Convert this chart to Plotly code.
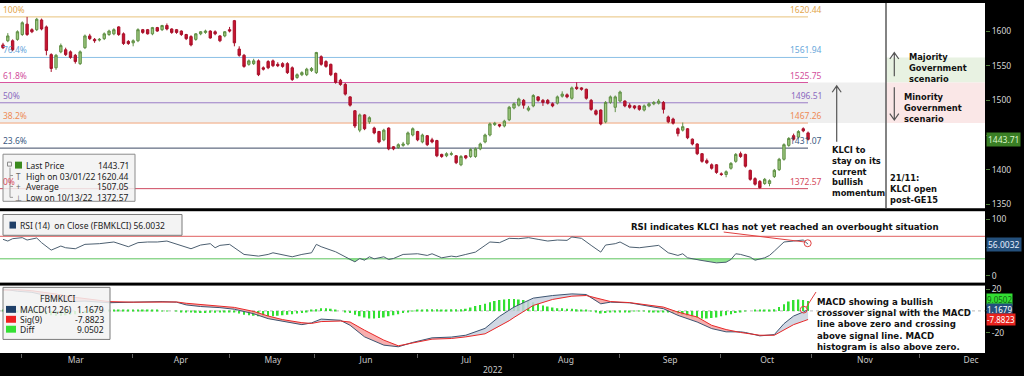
import numpy as np
import plotly.graph_objects as go

# ---------------- data ----------------
open_price = [
    1580, 1586, 1586, 1588, 1595, 1610, 1602, 1602, 1616, 1606,
    1566, 1547, 1570, 1573, 1570, 1565, 1553, 1576, 1593, 1588,
    1587, 1589, 1595, 1596, 1606, 1596, 1585, 1583, 1586, 1602,
    1602, 1596, 1605, 1602, 1608, 1603, 1602, 1600, 1595, 1592,
    1588, 1596, 1598, 1600, 1599, 1593, 1593, 1602, 1615, 1574,
    1565, 1552, 1553, 1557, 1547, 1556, 1557, 1552, 1553, 1553,
    1547, 1533, 1537, 1537, 1543, 1540, 1563, 1556, 1552, 1539,
    1529, 1523, 1505, 1485, 1457, 1479, 1469, 1460, 1455, 1443,
    1460, 1433, 1432, 1435, 1437, 1450, 1455, 1440, 1449, 1443,
    1442, 1422, 1420, 1422, 1420, 1407, 1420, 1419, 1419, 1430,
    1440, 1450, 1465, 1465, 1463, 1472, 1489, 1493, 1500, 1486,
    1492, 1505, 1500, 1500, 1495, 1496, 1506, 1508, 1503, 1519,
    1518, 1516, 1500, 1485, 1486, 1469, 1497, 1490, 1499, 1499,
    1493, 1492, 1492, 1486, 1492, 1495, 1496, 1497, 1476, 1473,
    1459, 1457, 1459, 1444, 1437, 1423, 1413, 1407, 1407, 1394,
    1393, 1402, 1412, 1423, 1422, 1399, 1387, 1383, 1380, 1380,
    1390, 1400, 1415, 1435, 1449, 1447, 1459, 1453]
high_price = [
    1583, 1597, 1588, 1601, 1614, 1620.44, 1604, 1619, 1618, 1608,
    1568, 1567, 1582, 1576, 1572, 1567, 1572, 1595, 1596, 1590,
    1590, 1598, 1602, 1604, 1607, 1598, 1587, 1588, 1604, 1603,
    1603, 1606, 1606, 1609, 1611, 1604, 1603, 1601, 1596, 1594,
    1597, 1600, 1602, 1601, 1601, 1594, 1600, 1606, 1616, 1578,
    1567, 1559, 1560, 1559, 1549, 1558, 1559, 1555, 1555, 1555,
    1549, 1539, 1542, 1547, 1548, 1570, 1565, 1558, 1553, 1540,
    1531, 1525, 1506, 1486, 1481, 1480, 1477, 1462, 1456, 1459,
    1461, 1434, 1438, 1440, 1455, 1461, 1456, 1452, 1450, 1446,
    1443, 1423, 1425, 1426, 1421, 1421, 1421, 1431, 1432, 1439,
    1452, 1468, 1469, 1466, 1472, 1492, 1497, 1504, 1502, 1492,
    1509, 1506, 1502, 1502, 1497, 1507, 1513, 1510, 1520, 1526,
    1519, 1517, 1502, 1487, 1487, 1499, 1507, 1507, 1514, 1500,
    1496, 1493, 1493, 1494, 1497, 1499, 1502, 1499, 1478, 1475,
    1461, 1468, 1460, 1445, 1438, 1424, 1416, 1409, 1408, 1396,
    1399, 1411, 1424, 1426, 1423, 1400, 1389, 1385, 1388, 1386,
    1401, 1417, 1438, 1447, 1452, 1457, 1461, 1455]
low_price = [
    1574, 1584, 1571, 1586, 1593, 1593, 1597, 1600, 1601, 1565,
    1541, 1544, 1568, 1564, 1560, 1553, 1551, 1574, 1587, 1583,
    1585, 1587, 1593, 1594, 1593, 1580, 1580, 1578, 1584, 1596,
    1595, 1594, 1599, 1600, 1601, 1596, 1596, 1593, 1587, 1578,
    1586, 1594, 1596, 1589, 1594, 1584, 1591, 1598, 1578, 1563,
    1547, 1550, 1551, 1535, 1543, 1545, 1548, 1548, 1547, 1538,
    1528, 1531, 1535, 1535, 1541, 1538, 1550, 1547, 1535, 1524,
    1521, 1507, 1491, 1460, 1454, 1457, 1466, 1451, 1438, 1441,
    1428, 1428, 1430, 1433, 1435, 1448, 1441, 1438, 1434, 1438,
    1418, 1417, 1418, 1420, 1408, 1405, 1415, 1417, 1417, 1428,
    1438, 1448, 1463, 1461, 1461, 1470, 1487, 1491, 1488, 1484,
    1490, 1498, 1492, 1494, 1490, 1494, 1504, 1503, 1501, 1515,
    1514, 1501, 1485, 1478, 1464, 1467, 1495, 1483, 1497, 1490,
    1488, 1487, 1485, 1484, 1490, 1493, 1494, 1481, 1467, 1465,
    1448, 1455, 1444, 1435, 1421, 1410, 1408, 1400, 1394, 1391,
    1389, 1400, 1410, 1417, 1403, 1384, 1377, 1372.57, 1378, 1376,
    1388, 1398, 1413, 1433, 1442, 1445, 1454, 1442]
close_price = [
    1576, 1593, 1573, 1599, 1612, 1595, 1599, 1617, 1603, 1572,
    1546, 1565, 1579, 1566, 1562, 1556, 1570, 1593, 1589, 1586,
    1588, 1596, 1600, 1602, 1595, 1582, 1582, 1586, 1602, 1598,
    1596, 1605, 1600, 1608, 1603, 1598, 1598, 1595, 1589, 1580,
    1596, 1599, 1600, 1590, 1596, 1586, 1599, 1600, 1583, 1565,
    1549, 1557, 1557, 1537, 1545, 1547, 1550, 1550, 1549, 1540,
    1530, 1537, 1540, 1545, 1546, 1569, 1552, 1549, 1537, 1526,
    1523, 1509, 1493, 1463, 1479, 1459, 1475, 1453, 1440, 1457,
    1430, 1430, 1436, 1437, 1453, 1459, 1443, 1450, 1436, 1440,
    1420, 1419, 1423, 1423, 1410, 1419, 1417, 1429, 1430, 1437,
    1450, 1466, 1467, 1463, 1470, 1490, 1495, 1502, 1493, 1489,
    1507, 1500, 1497, 1496, 1492, 1505, 1509, 1505, 1518, 1517,
    1516, 1503, 1487, 1480, 1466, 1497, 1505, 1505, 1512, 1492,
    1490, 1489, 1487, 1492, 1495, 1497, 1499, 1487, 1469, 1467,
    1452, 1462, 1446, 1437, 1423, 1412, 1410, 1402, 1396, 1393,
    1397, 1409, 1422, 1419, 1405, 1386, 1379, 1374, 1386, 1384,
    1399, 1415, 1436, 1445, 1444, 1455, 1456, 1443.71]

rsi_day = [0, 1, 2, 4, 5, 7, 8, 10, 12, 13, 15, 17, 20, 23, 26, 28, 30, 32, 34, 36,
           39, 41, 43, 44, 45, 47, 48, 50, 53, 55, 56, 58, 60, 62, 64, 65, 66, 69, 71, 73,
           74, 75, 76, 77, 79, 80, 81, 83, 86, 88, 89, 91, 93, 94, 96, 98, 100, 101, 103, 105,
           107, 109, 111, 113, 115, 117, 118, 120, 122, 124, 125, 127, 128, 130, 132, 136, 138, 140, 141, 142,
           145, 148, 150, 151, 152, 153, 155, 156, 158, 159, 160, 162, 164, 166, 167]
rsi_val = [64.6, 61.6, 65.8, 67.6, 63.4, 67.0, 58.7, 45.5, 52.7, 49.7, 47.9, 55.7, 56.9, 59.9, 51.5, 58.7, 59.9, 59.9, 61.6, 55.7,
           47.9, 54.5, 56.9, 49.7, 53.9, 55.7, 49.7, 37.8, 34.8, 37.8, 40.7, 37.8, 33.6, 37.8, 40.7, 55.7, 51.5, 42.5, 33.6, 24.6,
           30.6, 27.6, 33.6, 30.0, 33.6, 28.8, 30.6, 37.8, 39.0, 36.0, 39.0, 31.8, 34.8, 33.6, 37.8, 41.9, 53.9, 59.9, 58.7, 66.4,
           65.8, 67.6, 64.6, 61.6, 63.4, 62.8, 68.8, 66.4, 53.9, 41.9, 54.5, 56.9, 59.9, 50.9, 49.7, 53.9, 40.7, 36.0, 39.0, 31.8,
           27.0, 22.8, 24.0, 28.8, 39.0, 37.8, 33.0, 27.6, 31.8, 36.0, 43.7, 59.9, 61.6, 63.4, 56.0032]

macd_day = [0, 3, 6, 9, 11, 14, 17, 22, 27, 33, 36, 38, 41, 45, 48, 52, 55, 58, 62, 64,
            66, 70, 72, 75, 79, 82, 85, 89, 93, 96, 100, 103, 105, 106, 110, 114, 118, 121, 124, 126,
            130, 134, 137, 140, 144, 147, 150, 153, 154, 157, 160, 162, 164, 166, 167]
macd_val = [20, 18, 17, 14, 10.5, 8.5, 9, 7.5, 8, 8.5, 8, 5.5, 4, 3, 1.5, -2.6, -7.1, -9.5, -12.6, -11,
            -7.5, -8.6, -13.2, -23.8, -31.4, -32.9, -28.9, -24.7, -24, -22.3, -16, -5, 1, 3.5, 11.7, 14.1, 15.6, 15, 6.5, 8,
            7.4, 4.4, 2, -4.1, -10.2, -16.2, -19.2, -19.2, -19.8, -22.9, -21.7, -11.7, -4.7, -1, 1.1679]
signal_val = [19, 19.5, 18.5, 17, 15.5, 13, 11.5, 8.5, 8, 8.2, 8.2, 7, 6, 4.5, 3.2, -0.5, -4.7, -8, -10.8, -11.5,
              -9.8, -9.3, -10.2, -17.7, -26.8, -32, -29.5, -25.9, -25.3, -23.8, -21, -14, -9, -6, 5, 10.5, 13.5, 14.1, 10.5, 8.6,
              7.6, 5, 3.5, -1.1, -5.6, -13.2, -17.1, -19.8, -20.5, -22.3, -22.3, -17.7, -12.6, -9.5, -7.8823]
diff_val = [0.5, 0, -0.5, -1, -1.5, -1.5, -2, -2,
            -2.5, -3, -4, -4.5, -4.5, -4, -3.5, -3, -2.5, -2, -1.5,
            -1, -0.5, 0, 0.3, 0.3, 0.5, 0.5, 0.3, 0.3, 0.3, 0.5, 0.5, 0.3, 0.3, 0.2, 0.1, 0, -0.3,
            -0.8, -1.2, -1.5, -1.8, -2, -2, -1.8, -1.6, -1.5, -1.3, -1.2, -1.5,
            -2.5, -3.5, -4, -4.5, -4.8, -5, -5, -4.8, -4.5, -4, -3.5, -3, -2.5, -2,
            -1, 0.5, 1.5, 2.5, 2.5, 2,
            1, 0, -1, -2,
            -3.5, -5, -6, -7, -7, -6.5, -6, -5, -4, -3,
            -2, -1, -0.3, 0.5,
            1, 1.5, 1.5, 1.5, 1.2, 1.2, 1.5, 1.5, 1.5, 2, 3, 4.5, 5.5,
            6.5, 8, 9, 10, 10.5, 11, 11, 10.5, 10, 9, 8,
            6.5, 5, 4, 3, 2.5, 2.5, 2, 2, 1.5, 1,
            0.5, -0.5, -1.5,
            -2.5, -2, -1.5, -1, -1, -0.8, -0.8, -0.6, -0.6, -0.6, -0.8, -0.8, -1, -1.2, -1.5, -2,
            -3, -4, -5, -6, -6.5, -7, -7, -6.5, -6, -5, -4, -3, -2,
            -1, -0.5, 0, 0.3, 0.5, 0.5, 0.8, 1.5,
            3.5, 6, 8.5, 10, 10.5, 10, 9.0502]

fib_levels = [1620.44, 1561.94, 1525.75, 1496.51, 1467.26, 1431.07, 1372.57]
fib_names = ["100%", "76.4%", "61.8%", "50%", "38.2%", "23.6%", "0%"]
fib_line_colors = ["#e9c27c", "#8cc0e6", "#d8559f", "#9a7cc6", "#f2a67a", "#3c4864", "#cf4a60"]
fib_text_colors = ["#e3a64c", "#69a7db", "#d24f9b", "#8b6abf", "#ee8b55", "#3d5a82", "#d44a5c"]

month_names = ["Mar", "Apr", "May", "Jun", "Jul", "Aug", "Sep", "Oct", "Nov", "Dec"]
month_label_pos = [15.1, 36.9, 56.0, 75.3, 96.1, 116.8, 138.4, 158.5, 178.8, 200.8]
month_start_pos = [3.9, 26.8, 46.9, 64.7, 85.9, 105.8, 127.8, 148.8, 167.8, 190.2]
x_range = [-0.62, 203.7]

price_ticks = [1350, 1400, 1450, 1500, 1550, 1600]
price_tick_text = ["1350", "1400", "", "1500", "1550", "1600"]   # 1450 sits under the last-price tag
rsi_ticks = [0, 50, 100]
rsi_tick_text = ["0", "", "100"]
macd_ticks = [-20, 0, 20]
macd_tick_text = ["-20", "", "20"]
rsi_upper, rsi_lower = 70, 30

legend_rows = [("Last Price", "1443.71"), ("High on 03/01/22", "1620.44"),
               ("Average", "1507.05"), ("Low on 10/13/22", "1372.57")]
macd_rows = [("MACD(12,26)", "1.1679", "#1f3f68"), ("Sig(9)", "-7.8823", "#ee2020"),
             ("Diff", "9.0502", "#33e033")]

# ---------------- helpers (pixel -> paper) ----------------
W, H = 985.0, 353.0


def px(x):
    return x / W


def py(y):
    return (H - y) / H


REG = "Noto Sans"
BOLD = "DejaVu Sans"
days = list(range(len(close_price)))

fig = go.Figure()

# ---- price panel ----
fig.add_trace(go.Candlestick(
    x=days, open=open_price, high=high_price, low=low_price, close=close_price,
    increasing=dict(line=dict(color="#5f8f44", width=1), fillcolor="#9dc77f"),
    decreasing=dict(line=dict(color="#a8102a", width=1), fillcolor="#c8142f"),
    whiskerwidth=0, xaxis="x", yaxis="y", hoverinfo="skip"))

# ---- RSI panel ----
rsi_arr = np.array(rsi_val)
fig.add_trace(go.Scatter(x=rsi_day, y=[rsi_lower] * len(rsi_day), mode="lines",
                         line=dict(width=0), xaxis="x2", yaxis="y2", hoverinfo="skip"))
fig.add_trace(go.Scatter(x=rsi_day, y=np.minimum(rsi_arr, rsi_lower), mode="lines",
                         line=dict(width=0), fill="tonexty", fillcolor="rgba(110,220,110,0.75)",
                         xaxis="x2", yaxis="y2", hoverinfo="skip"))
fig.add_trace(go.Scatter(x=rsi_day, y=rsi_val, mode="lines",
                         line=dict(color="#4c5f70", width=1), xaxis="x2", yaxis="y2"))

# ---- MACD panel ----
m_arr = np.array(macd_val)
s_arr = np.array(signal_val)
fig.add_trace(go.Bar(x=days, y=diff_val, width=0.35, marker=dict(color="#33e033", line=dict(width=0)),
                     xaxis="x3", yaxis="y3"))
fig.add_trace(go.Scatter(x=macd_day, y=s_arr, mode="lines", line=dict(width=0), xaxis="x3", yaxis="y3"))
fig.add_trace(go.Scatter(x=macd_day, y=np.maximum(m_arr, s_arr), mode="lines", line=dict(width=0),
                         fill="tonexty", fillcolor="rgba(200,208,222,0.85)", xaxis="x3", yaxis="y3"))
fig.add_trace(go.Scatter(x=macd_day, y=s_arr, mode="lines", line=dict(width=0), xaxis="x3", yaxis="y3"))
fig.add_trace(go.Scatter(x=macd_day, y=np.minimum(m_arr, s_arr), mode="lines", line=dict(width=0),
                         fill="tonexty", fillcolor="rgba(246,160,160,0.85)", xaxis="x3", yaxis="y3"))
fig.add_trace(go.Scatter(x=macd_day, y=m_arr, mode="lines", line=dict(color="#3d5572", width=1),
                         xaxis="x3", yaxis="y3"))
fig.add_trace(go.Scatter(x=macd_day, y=s_arr, mode="lines", line=dict(color="#e82828", width=1),
                         xaxis="x3", yaxis="y3"))

shapes = []
annotations = []

# bands
shapes.append(dict(type="rect", xref="paper", yref="y", x0=0, x1=px(886), y0=fib_levels[4], y1=fib_levels[2],
                   fillcolor="#efefef", line=dict(width=0), layer="below"))
shapes.append(dict(type="rect", xref="paper", yref="y", x0=px(886), x1=1, y0=fib_levels[2], y1=fib_levels[1],
                   fillcolor="#e8f2e2", line=dict(width=0), layer="below"))
shapes.append(dict(type="rect", xref="paper", yref="y", x0=px(886), x1=1, y0=fib_levels[4], y1=fib_levels[2],
                   fillcolor="#fae7e7", line=dict(width=0), layer="below"))
# fib lines + labels
for lev, name, lc, tc in zip(fib_levels, fib_names, fib_line_colors, fib_text_colors):
    shapes.append(dict(type="line", xref="paper", yref="y", x0=0, x1=px(808), y0=lev, y1=lev,
                       line=dict(color=lc, width=1), layer="below"))
    annotations.append(dict(xref="paper", yref="y", x=px(1), y=lev, text=name, showarrow=False,
                            xanchor="left", yanchor="bottom", font=dict(family=REG, size=8.5, color=tc)))
    annotations.append(dict(xref="paper", yref="y", x=px(824), y=lev, text=f"{lev:.2f}", showarrow=False,
                            xanchor="right", yanchor="bottom", font=dict(family=REG, size=8.5, color=tc)))
# vertical separator line
shapes.append(dict(type="line", xref="paper", yref="y domain", x0=px(886), x1=px(886), y0=0, y1=1,
                   line=dict(color="#5a5a5a", width=1.5), layer="below"))
# RSI guide lines
shapes.append(dict(type="line", xref="paper", yref="y2", x0=0, x1=1, y0=rsi_upper, y1=rsi_upper,
                   line=dict(color="#e06060", width=1), layer="below"))
shapes.append(dict(type="line", xref="paper", yref="y2", x0=0, x1=1, y0=rsi_lower, y1=rsi_lower,
                   line=dict(color="#5cc45c", width=1), layer="below"))
# MACD zero line
shapes.append(dict(type="line", xref="paper", yref="y3", x0=0, x1=1, y0=0, y1=0,
                   line=dict(color="#b8b8b8", width=1, dash="dot"), layer="below"))


def prect(x0, y0, x1, y1, fill, line_color=None, lw=1):
    return dict(type="rect", xref="paper", yref="paper", x0=px(x0), x1=px(x1), y0=py(y1), y1=py(y0),
                fillcolor=fill, line=dict(color=line_color or fill, width=lw if line_color else 0),
                layer="above")


def arrow(x, y_from, y_to, color="#555555"):
    d = 1 if y_to > y_from else -1
    hw, hh = 4.5, 6.5
    path = (f"M{px(x)},{py(y_from)} L{px(x)},{py(y_to)} "
            f"M{px(x - hw)},{py(y_to - d * hh)} L{px(x)},{py(y_to)} L{px(x + hw)},{py(y_to - d * hh)}")
    return dict(type="path", xref="paper", yref="paper", path=path, line=dict(color=color, width=1.2),
                layer="above")


def ptext(x, y, text, size=8.5, color="#222222", family=REG, xanchor="left", yanchor="middle", align="left"):
    return dict(xref="paper", yref="paper", x=px(x), y=py(y), text=text, showarrow=False,
                xanchor=xanchor, yanchor=yanchor, align=align,
                font=dict(family=family, size=size, color=color))


# price legend box
shapes.append(prect(3, 152.5, 135, 200, "rgba(242,242,242,0.85)", "#8c8c8c"))
shapes.append(prect(15, 160, 22, 167, "#3a8a1e"))
shapes.append(dict(type="path", xref="paper", yref="paper", layer="above",
                   path=(f"M{px(10)},{py(166)} L{px(10)},{py(196)} M{px(10)},{py(174)} L{px(13)},{py(174)} "
                         f"M{px(10)},{py(185)} L{px(13)},{py(185)} M{px(10)},{py(196)} L{px(13)},{py(196)}"),
                   line=dict(color="#9a9a9a", width=1)))
shapes.append(prect(7.5, 160.5, 11.5, 164.5, "rgba(0,0,0,0)", "#8a8a8a"))
row_y = [163.7, 174.5, 185.3, 196]
row_sym = ["", "T", "+", "\u22a5"]
for (lab, val), yy, sym in zip(legend_rows, row_y, row_sym):
    annotations.append(ptext(24, yy, lab))
    annotations.append(ptext(131, yy, val, xanchor="right"))
    if sym:
        annotations.append(ptext(18.5, yy, sym, size=8, color="#666666", xanchor="center"))

# RSI legend box
shapes.append(prect(3, 213.3, 182, 234.3, "rgba(242,242,242,0.92)", "#7a7a7a"))
shapes.append(prect(9.5, 220.5, 16, 227.5, "#1f3f68"))
annotations.append(ptext(18, 224.3, "RSI (14)  on Close (FBMKLCI) 56.0032"))

# MACD legend box
shapes.append(prect(3, 286.8, 110, 339.3, "rgba(242,242,242,0.85)", "#7a7a7a"))
annotations.append(ptext(58, 297.7, "FBMKLCI", xanchor="center"))
for (lab, val, col), yy in zip(macd_rows, [309, 319, 329]):
    shapes.append(prect(6, yy - 3.5, 16, yy + 3.5, col))
    annotations.append(ptext(18, yy, lab))
    annotations.append(ptext(106, yy, val, xanchor="right"))

# arrows
shapes.append(arrow(836.7, 140, 83.5))
shapes.append(arrow(894.3, 74, 50))
shapes.append(arrow(894.3, 85, 118))

# RSI / MACD pointers
shapes.append(dict(type="circle", xref="paper", yref="paper", x0=px(804.2), x1=px(811.2),
                   y0=py(245.8), y1=py(238.8), line=dict(color="#e04040", width=1), layer="above"))
shapes.append(dict(type="line", xref="paper", yref="paper", x0=px(723.7), y0=py(231), x1=px(804.5), y1=py(241),
                   line=dict(color="#e04040", width=1), layer="above"))
shapes.append(dict(type="circle", xref="paper", yref="paper", x0=px(800.3), x1=px(807.1),
                   y0=py(312.7), y1=py(305.9), line=dict(color="#e04040", width=1), layer="above"))
shapes.append(dict(type="line", xref="paper", yref="paper", x0=px(806.5), y0=py(306.5), x1=px(816), y1=py(291.5),
                   line=dict(color="#e04040", width=1), layer="above"))

# commentary texts
annotations.append(ptext(830, 141.5, "<b>KLCI to<br>stay on its<br>current<br>bullish<br>momentum</b>",
                         size=8.3, color="#111111", family=BOLD, yanchor="top"))
annotations.append(ptext(888, 169.5, "<b>21/11:<br>KLCI open<br>post-GE15</b>",
                         size=8.3, color="#111111", family=BOLD, yanchor="top"))
annotations.append(ptext(907, 47.5, "<b>Majority<br>Government<br>scenario</b>",
                         size=8.3, color="#111111", family=BOLD, yanchor="top"))
annotations.append(ptext(902, 87.5, "<b>Minority<br>Government<br>scenario</b>",
                         size=8.3, color="#111111", family=BOLD, yanchor="top"))
annotations.append(ptext(785, 225.7, "<b>RSI indicates KLCI has not yet reached an overbought situation</b>",
                         size=8.6, color="#111111", family=BOLD, xanchor="center"))
annotations.append(ptext(815, 295, "<b>MACD showing a bullish<br>crossover signal with the MACD<br>"
                                   "line above zero and crossing<br>above signal line. MACD<br>"
                                   "histogram is also above zero.</b>",
                         size=8.6, color="#111111", family=BOLD, yanchor="top"))


# right-axis value tags
def tag(yref, yval, text, bg, fg, size=8.5, pad=1):
    return dict(xref="paper", yref=yref, x=px(986), y=yval, text=text, showarrow=False,
                xanchor="left", yanchor="middle", bgcolor=bg, borderpad=pad,
                font=dict(family=REG, size=size, color=fg))


annotations.append(tag("y", close_price[-1], f"{close_price[-1]:.2f}", "#3a7f25", "#d9f5c8"))
annotations.append(tag("y2", rsi_val[-1], f"{rsi_val[-1]:.4f}", "#24507c", "#e6efff"))
# the three MACD tags are stacked (as in the original) so they do not hide each other
macd_tags = [(diff_val[-1], "#33dd33", "#116611", 298.6),
             (macd_val[-1], "#24507c", "#ffffff", 308.8),
             (signal_val[-1], "#e8231e", "#ffffff", 319.0)]
for val, bg, fg, ypix in macd_tags:
    annotations.append(dict(xref="paper", yref="paper", x=px(986), y=py(ypix), text=f"{val:.4f}",
                            showarrow=False, xanchor="left", yanchor="middle", bgcolor=bg, borderpad=0,
                            font=dict(family=REG, size=8, color=fg)))

annotations.append(ptext(493, 370, "2022", size=8.5, color="#c8c8c8", xanchor="center"))

axis_common = dict(showgrid=False, zeroline=False, showline=False, fixedrange=True)
ytick_common = dict(side="right", ticks="outside", ticklen=4, tickcolor="#4f7a3a", tickwidth=1,
                    tickfont=dict(family=REG, size=8.5, color="#d6d6d6"), tickmode="array")

fig.update_layout(
    width=1024, height=376, autosize=False,
    margin=dict(l=0, r=39, t=0, b=23, pad=0),
    paper_bgcolor="#000000", plot_bgcolor="#ffffff",
    showlegend=False, hovermode=False,
    xaxis=dict(domain=[0, 1], range=x_range, anchor="y", showticklabels=False, ticks="",
               rangeslider=dict(visible=False), **axis_common),
    xaxis2=dict(domain=[0, 1], range=x_range, anchor="y2", showticklabels=False, ticks="", **axis_common),
    xaxis3=dict(domain=[0, 1], range=x_range, anchor="y3", tickmode="array", tickvals=month_label_pos,
                ticktext=month_names, ticks="", tickfont=dict(family=REG, size=8.5, color="#c8c8c8"),
                minor=dict(tickmode="array", tickvals=month_start_pos, ticks="outside", ticklen=4,
                           tickcolor="#606060"),
                **axis_common),
    yaxis=dict(domain=[0.4136, 1], range=[1344.3, 1640.5], anchor="x", tickvals=price_ticks,
               ticktext=price_tick_text, **ytick_common, **axis_common),
    yaxis2=dict(domain=[0.2011, 0.4051], range=[-12.3, 114.6], anchor="x2", tickvals=rsi_ticks,
                ticktext=rsi_tick_text, **ytick_common, **axis_common),
    yaxis3=dict(domain=[0, 0.1926], range=[-38.6, 23.2], anchor="x3", tickvals=macd_ticks,
                ticktext=macd_tick_text, **ytick_common, **axis_common),
    shapes=shapes, annotations=annotations,
)

fig.write_html("out.html", config={"displayModeBar": False},
               post_script="document.body.style.margin='0';document.body.style.background='#000';")
